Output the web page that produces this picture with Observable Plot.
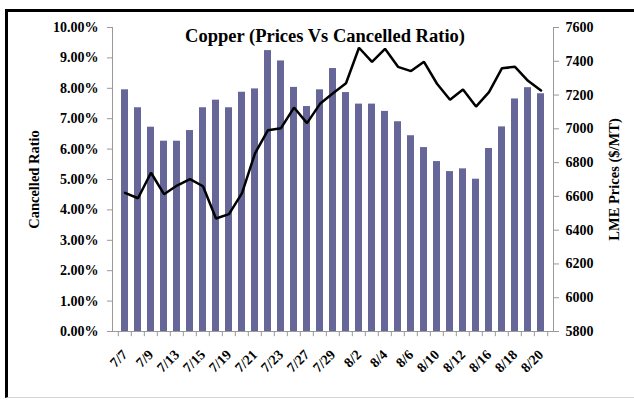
<!DOCTYPE html>
<html>
<head>
<meta charset="utf-8">
<script src="https://cdn.jsdelivr.net/npm/d3@7"></script>
<script src="https://cdn.jsdelivr.net/npm/@observablehq/plot@0.6"></script>
<style>
  html, body { margin: 0; padding: 0; background: white; }
  #wrap { position: relative; width: 634px; height: 401px; overflow: hidden; }
  #border { position: absolute; left: 5px; top: 9px; width: 640px; height: 385px;
    border-left: 3px solid black; border-top: 3px solid black; border-bottom: 1px solid #d4d4d4;
    pointer-events: none; }
  svg { display: block; }
</style>
</head>
<body>
<div id="wrap"><div id="border"></div></div>
<script>
const dates = ["7/7","7/8","7/9","7/12","7/13","7/14","7/15","7/16","7/19","7/20","7/21","7/22","7/23","7/26","7/27","7/28","7/29","7/30","8/2","8/3","8/4","8/5","8/6","8/9","8/10","8/11","8/12","8/13","8/16","8/17","8/18","8/19","8/20"];
const cancelledRatio = [7.95,7.36,6.72,6.26,6.26,6.61,7.36,7.61,7.36,7.87,7.98,9.24,8.90,8.03,7.40,7.95,8.65,7.86,7.48,7.48,7.24,6.90,6.44,6.05,5.59,5.26,5.35,5.01,6.02,6.73,7.65,8.02,7.82];
const lmePrice = [6621,6589,6740,6613,6664,6702,6660,6469,6495,6619,6855,6992,7004,7126,7034,7148,7211,7270,7480,7397,7474,7367,7342,7397,7267,7172,7233,7132,7217,7359,7367,7284,7227];
const pctTicks = [0,1,2,3,4,5,6,7,8,9,10];
const priceTicks = [5800,6000,6200,6400,6600,6800,7000,7200,7400,7600];
const labeledDates = dates.filter((d, i) => i % 2 === 0);
const title = "Copper (Prices Vs Cancelled Ratio)";
const leftLabel = "Cancelled Ratio";
const rightLabel = "LME Prices ($/MT)";

const priceMin = 5800, priceMax = 7600;
const toPct = p => (p - priceMin) / (priceMax - priceMin) * 10;
const fromPct = v => Math.round(priceMin + v / 10 * (priceMax - priceMin));

const data = dates.map((d, i) => ({date: d, ratio: cancelledRatio[i], price: lmePrice[i]}));

const chart = Plot.plot({
  width: 634, height: 401,
  marginLeft: 112, marginRight: 81, marginTop: 27, marginBottom: 70,
  x: {type: "band", domain: dates, paddingInner: 0.45, paddingOuter: 0.225},
  y: {domain: [0, 10]},
  style: {fontFamily: "'Liberation Serif', 'Times New Roman', serif", fontWeight: "bold", background: "white", color: "black"},
  marks: [
    Plot.barY(data, {x: "date", y: "ratio", fill: "#666699"}),
    Plot.lineY(data, {x: "date", y: d => toPct(d.price), stroke: "black", strokeWidth: 2.5, strokeLinejoin: "miter"}),
    Plot.frame({anchor: "left", stroke: "#999"}),
    Plot.frame({anchor: "right", stroke: "#999"}),
    Plot.frame({anchor: "bottom", stroke: "#999"}),
    Plot.ruleX(data, {x: "date", y1: 0, y2: -0.17, dx: -6.68, stroke: "#999"}),
    Plot.ruleX(data.slice(-1), {x: "date", y1: 0, y2: -0.17, dx: 6.68, stroke: "#999"}),
    Plot.axisY(pctTicks, {anchor: "left", tickSize: 5, tickPadding: 9, stroke: "#999", fill: "black", fontSize: 14, fontWeight: "bold", tickFormat: d => d.toFixed(2) + "%", label: null}),
    Plot.axisY(priceTicks.map(toPct), {anchor: "right", tickSize: 5, tickPadding: 7, stroke: "#999", fill: "black", fontSize: 14, fontWeight: "bold", tickFormat: d => String(fromPct(d)), label: null}),
    Plot.axisX(labeledDates, {tickSize: 0, tickRotate: -45, tickPadding: 21, fontSize: 14, fontWeight: "bold", fill: "black", label: null}),
    Plot.text([title], {text: d => d, frameAnchor: "top", dx: -8, dy: 1, fontSize: 18.5, fontWeight: "bold", fill: "black"}),
    Plot.text([leftLabel], {text: d => d, frameAnchor: "left", dx: -78, rotate: -90, textAnchor: "middle", fontSize: 14.5, fontWeight: "bold", fill: "black"}),
    Plot.text([rightLabel], {text: d => d, frameAnchor: "right", dx: 61, rotate: -90, textAnchor: "middle", fontSize: 14.5, fontWeight: "bold", fill: "black"})
  ]
});
document.getElementById("wrap").prepend(chart);
</script>
</body>
</html>
